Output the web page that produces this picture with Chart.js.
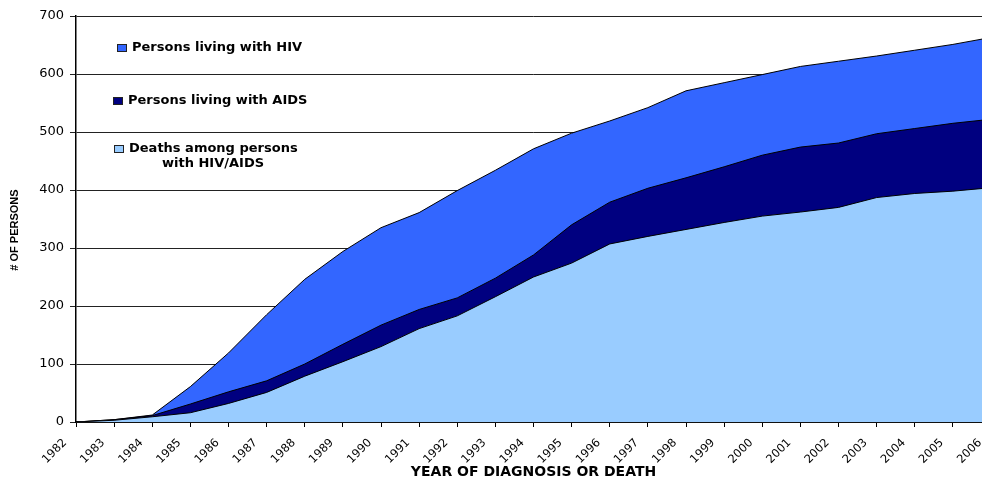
<!DOCTYPE html>
<html><head><meta charset="utf-8">
<script src="https://cdn.jsdelivr.net/npm/chart.js@4.4.1/dist/chart.umd.min.js"></script>
<style>
html,body{margin:0;padding:0;background:#fff;overflow:hidden;width:982px;height:479px}
#wrap{position:absolute;left:0;top:0;width:992px;height:479px}
</style></head><body>
<div id="wrap"><canvas id="c"></canvas></div>
<script>
// Categories
const years = ['1982','1983','1984','1985','1986','1987','1988','1989','1990','1991','1992','1993','1994','1995','1996','1997','1998','1999','2000','2001','2002','2003','2004','2005','2006'];
// Cumulative series values (upper edge of each area)
const livingHIV  = [0,4,12,61,119,185,246,294,335,361,399,434,471,498,519,542,571,585,599,613,622,631,641,651,663];
const livingAIDS = [0,4,11,31,52,71,100,134,167,194,214,248,288,340,379,403,421,440,460,474,481,497,506,515,522];
const deaths     = [0,3,9,16,32,51,79,104,130,161,183,216,250,274,307,320,332,344,355,362,370,387,394,398,404];
// Y tick labels
const yTicks = [0,100,200,300,400,500,600,700];
// Series labels (legend lines)
const hivLabel = ['Persons living with HIV'];
const aidsLabel = ['Persons living with AIDS'];
const deathLabel = ['Deaths among persons','with HIV/AIDS'];
const yTitle = '# OF PERSONS';
const xTitle = 'YEAR OF DIAGNOSIS OR DEATH';

const legendPos = [ {cx:217, y:[48]}, {cx:218, y:[101]}, {cx:213, y:[149,164]} ];

const customLegend = {
  id:'customLegend',
  afterDraw(chart){
    const ctx = chart.ctx;
    ctx.save();
    ctx.font = 'bold 13px "DejaVu Sans"';
    ctx.fillStyle = '#000';
    ctx.textBaseline = 'middle';
    chart.data.datasets.forEach((ds, i) => {
      const p = legendPos[i];
      const lines = ds.legendLines;
      let firstLeft = null;
      lines.forEach((t, j) => {
        const w = ctx.measureText(t).width;
        const left = Math.round(p.cx - w/2);
        if (j === 0) firstLeft = left;
        ctx.fillStyle = '#000';
        ctx.textAlign = 'left';
        ctx.fillText(t, left, p.y[j]);
      });
      const bx = firstLeft - 15, by = p.y[0] - 4;
      ctx.fillStyle = ds.backgroundColor;
      ctx.fillRect(bx, by, 10, 8);
      ctx.strokeStyle = '#222';
      ctx.lineWidth = 1;
      ctx.strokeRect(bx + 0.5, by + 0.5, 9, 7);
    });
    // y axis title
    ctx.save();
    ctx.translate(15, 230);
    ctx.rotate(-Math.PI/2);
    ctx.font = 'bold 11px "Liberation Sans"';
    ctx.fillStyle = '#000';
    ctx.textAlign = 'center';
    ctx.textBaseline = 'middle';
    ctx.fillText(yTitle, 0, 0);
    ctx.restore();
    ctx.restore();
  }
};

new Chart(document.getElementById('c'), {
  type: 'line',
  data: {
    labels: years,
    datasets: [
      { label: hivLabel.join(' '), legendLines: hivLabel, data: livingHIV, backgroundColor: '#3366FF', borderColor: '#000', borderWidth: 1, fill: 'origin', pointRadius: 0, tension: 0, order: 3 },
      { label: aidsLabel.join(' '), legendLines: aidsLabel, data: livingAIDS, backgroundColor: '#000080', borderColor: '#000', borderWidth: 1, fill: 'origin', pointRadius: 0, tension: 0, order: 2 },
      { label: deathLabel.join(' '), legendLines: deathLabel, data: deaths, backgroundColor: '#99CCFF', borderColor: '#000', borderWidth: 1, fill: 'origin', pointRadius: 0, tension: 0, order: 1 }
    ]
  },
  options: {
    responsive: true,
    maintainAspectRatio: false,
    animation: false,
    layout: { padding: { top: 16, left: 0, right: 1, bottom: 0 } },
    plugins: { legend: { display: false }, tooltip: { enabled: false } },
    scales: {
      x: {
        offset: false,
        grid: { drawOnChartArea: false, drawTicks: true, tickLength: 5, color: '#000' },
        border: { color: '#000', width: 1.5 },
        ticks: { maxRotation: 45, minRotation: 45, autoSkip: false, color: '#000', padding: 9, labelOffset: -11, font: { family: 'DejaVu Sans', size: 11.5 } },
        title: { display: true, text: xTitle, color: '#000', font: { family: 'DejaVu Sans', size: 14, weight: 'bold', lineHeight: 1 }, padding: { top: 0, bottom: 0 } },
        afterFit(s) { s.height = 57; s.paddingLeft = 0; s.paddingRight = 0; }
      },
      y: {
        min: 0, max: 700,
        afterBuildTicks(s) { s.ticks = yTicks.map(v => ({ value: v })); },
        ticks: { color: '#000', padding: 6, font: { family: 'DejaVu Sans', size: 13 } },
        grid: { color: '#222', tickLength: 6, lineWidth: 1 },
        border: { color: '#000', width: 1.5 },
        afterFit(s) { s.width = 76; }
      }
    }
  },
  plugins: [customLegend]
});
</script>
</body></html>
